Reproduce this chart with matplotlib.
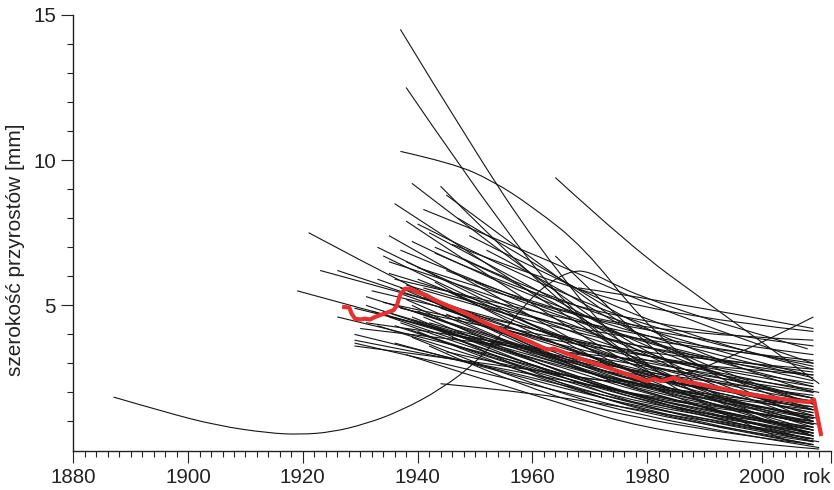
import matplotlib
matplotlib.use("Agg")
import matplotlib.pyplot as plt
from matplotlib.path import Path
from matplotlib.patches import PathPatch
from matplotlib.ticker import MultipleLocator, FixedLocator
from matplotlib.transforms import blended_transform_factory

plt.rcParams['font.family'] = ['Liberation Sans', 'DejaVu Sans']

# bundle of single-tree curves, read at start, 1960, 1985 and end
start_year = [1939, 1936, 1938, 1942, 1935, 1933, 1934, 1937, 1938, 1933,
              1944, 1921, 1923, 1926, 1919, 1926, 1931, 1929, 1932, 1929,
              1929, 1929, 1929, 1936, 1944, 1937, 1938, 1936, 1939, 1940,
              1935, 1941, 1937, 1938, 1940, 1939, 1942, 1938, 1943, 1945,
              1935, 1932, 1934, 1936, 1931, 1930, 1940, 1941, 1938, 1937,
              1942, 1944, 1934, 1939, 1940, 1943, 1945, 1941, 1946, 1939,
              1933, 1946, 1947, 1931, 1942, 1950, 1948, 1935, 1945, 1947,
              1943, 1949, 1952, 1940, 1937, 1941, 1939, 1936, 1943, 1945]
start_mm = [9.2, 8.5, 7.9, 7.5, 7.4, 7.0, 6.7, 6.9, 6.5, 5.9,
            9.1, 7.5, 6.2, 6.2, 5.5, 4.6, 5.3, 4.9, 4.8, 4.0,
            3.8, 3.7, 3.6, 3.7, 2.3, 5.4, 5.2, 5.0, 5.0, 4.8,
            4.6, 4.6, 4.4, 4.2, 4.1, 3.9, 3.6, 3.3, 5.8, 5.5,
            6.1, 5.5, 5.1, 5.9, 4.4, 4.2, 6.3, 5.6, 5.7, 4.9,
            4.4, 4.9, 4.8, 7.2, 7.8, 6.8, 6.2, 8.3, 7.1, 4.5,
            4.3, 3.9, 4.6, 5.0, 5.2, 5.8, 6.6, 6.5, 8.8, 8.0,
            7.0, 7.4, 6.9, 5.9, 5.6, 5.3, 4.6, 4.3, 4.2, 4.7]
mm_1960 = [6.0, 5.4, 5.0, 5.6, 4.6, 4.4, 4.2, 5.0, 4.5, 4.0,
           5.9, 3.4, 4.2, 4.0, 3.3, 3.0, 3.5, 3.4, 3.2, 2.5,
           2.6, 2.3, 2.8, 2.4, 2.0, 3.8, 3.3, 3.4, 3.0, 3.2,
           2.9, 3.0, 2.8, 2.7, 2.5, 2.2, 2.0, 1.9, 3.9, 4.1,
           4.6, 4.2, 4.0, 4.8, 3.6, 3.5, 5.0, 4.5, 4.4, 3.9,
           3.4, 3.8, 3.3, 5.2, 5.8, 5.3, 5.0, 6.8, 6.0, 3.1,
           2.6, 2.9, 3.6, 3.1, 3.5, 4.9, 5.5, 4.9, 6.6, 6.5,
           5.6, 6.3, 6.1, 4.3, 3.6, 3.4, 2.9, 2.7, 2.6, 3.3]
mm_1985 = [2.6, 2.2, 2.0, 3.0, 1.8, 1.6, 2.4, 3.4, 2.9, 2.1,
           1.8, 1.6, 2.8, 2.2, 1.8, 1.4, 2.0, 2.3, 1.6, 1.3,
           1.7, 1.0, 2.0, 1.2, 1.2, 2.4, 1.7, 2.0, 1.3, 1.9,
           1.5, 1.5, 1.4, 1.6, 1.1, 0.9, 0.8, 0.45, 2.2, 2.6,
           3.2, 3.0, 3.2, 3.7, 2.7, 3.0, 3.9, 3.6, 3.3, 3.1,
           2.5, 2.8, 2.2, 3.6, 3.9, 4.2, 4.0, 4.6, 4.6, 2.0,
           1.2, 1.5, 2.4, 1.4, 1.8, 3.4, 3.8, 2.9, 3.0, 3.5,
           2.6, 4.0, 3.2, 2.5, 1.9, 1.6, 1.1, 1.3, 1.0, 1.9]
end_year = [2009, 2009, 2009, 2009, 2009, 2008, 2009, 2009, 2010, 2009,
            2005, 2009, 2009, 2009, 2009, 2009, 2010, 2009, 2009, 2009,
            2009, 2009, 2009, 2009, 2009, 2009, 2010, 2009, 2009, 2009,
            2009, 2009, 2009, 2009, 2009, 2010, 2009, 2010, 2009, 2009,
            2009, 2009, 2009, 2009, 2009, 2009, 2009, 2009, 2009, 2009,
            2009, 2009, 2009, 2009, 2009, 2009, 2009, 2009, 2009, 2009,
            2009, 2009, 2009, 2009, 2009, 2009, 2008, 2009, 2009, 2009,
            2009, 2009, 2009, 2009, 2009, 2009, 2010, 2009, 2009, 2009]
end_mm = [1.2, 0.9, 0.7, 1.6, 0.6, 0.4, 1.4, 2.4, 2.0, 1.1,
          0.3, 0.6, 1.8, 1.3, 0.9, 0.5, 1.1, 1.5, 0.7, 0.6,
          1.0, 0.3, 1.4, 0.5, 0.4, 1.6, 0.9, 1.2, 0.4, 1.1,
          0.7, 0.5, 0.6, 1.0, 0.2, 0.1, 0.2, 0.05, 1.3, 1.8,
          2.6, 2.2, 2.8, 3.0, 2.0, 2.6, 3.3, 3.1, 2.7, 2.3,
          1.9, 2.1, 1.7, 2.5, 2.9, 3.6, 3.8, 3.0, 4.1, 1.5,
          0.4, 0.8, 1.4, 0.3, 0.9, 2.2, 2.6, 1.8, 1.4, 2.0,
          1.0, 2.8, 1.6, 1.7, 1.0, 0.7, 0.3, 0.8, 0.2, 1.2]

# curves with their own shape
a_years = [1937, 1949, 1961, 1975, 1990, 2009]
a_mm = [14.5, 10.6, 7.0, 3.6, 1.7, 0.5]
b_years = [1938, 1957, 1970, 1985, 2009]
b_mm = [12.5, 7.0, 4.2, 2.2, 0.8]
arc_years = [1937, 1946, 1953, 1960, 1969, 1979, 1990, 2009]
arc_mm = [10.3, 9.9, 9.3, 8.4, 7.0, 4.5, 2.6, 1.0]
d_years = [1964, 1977, 1990, 2010]
d_mm = [9.4, 7.05, 5.15, 2.3]
l1_years = [1964, 1979, 1992, 2009]
l1_mm = [6.7, 3.8, 1.7, 0.5]
l2_years = [1968, 1979, 2009]
l2_mm = [5.6, 5.3, 4.2]
rise_years = [1945, 1965, 1982, 1996, 2009]
rise_mm = [3.4, 2.5, 2.3, 3.3, 4.6]
old_years = [1887, 1896, 1905, 1914, 1919.5, 1925, 1931, 1937, 1944, 1950,
             1955, 1959, 1963, 1967, 1970, 1974, 1979, 1990, 2000, 2008]
old_mm = [1.84, 1.32, 0.86, 0.6, 0.55, 0.63, 0.92, 1.36, 2.1, 3.0,
          4.1, 5.1, 5.8, 6.2, 6.15, 5.75, 5.3, 4.55, 3.98, 3.5]

# mean curve (red)
mean_years = [1927.2, 1928.1, 1928.5, 1929.1, 1930.0, 1930.8, 1931.7, 1932.6,
              1933.4, 1934.6, 1935.8, 1936.4, 1936.9, 1937.8, 1938.7, 1939.9,
              1941.6, 1942.8, 1945.1, 1948.0, 1950.9, 1953.8, 1956.7, 1959.7,
              1962.6, 1963.7, 1966.1, 1968.4, 1971.3, 1974.2, 1977.1, 1980.0,
              1981.2, 1982.4, 1983.5, 1984.7, 1985.9, 1988.8, 1991.7, 1994.6,
              1997.5, 2000.4, 2003.3, 2006.8, 2008.3, 2009.1, 2010.3]
mean_mm = [4.94, 4.92, 4.71, 4.54, 4.51, 4.54, 4.51, 4.60,
           4.66, 4.74, 4.83, 5.0, 5.34, 5.57, 5.57, 5.46,
           5.34, 5.2, 5.0, 4.77, 4.48, 4.23, 3.97, 3.74,
           3.47, 3.51, 3.33, 3.16, 2.97, 2.78, 2.59, 2.39,
           2.47, 2.39, 2.44, 2.51, 2.41, 2.30, 2.18, 2.07,
           1.95, 1.86, 1.78, 1.69, 1.67, 1.75, 0.57]


def smooth_line(ax, xs, ys):
    # quadratic bezier through the read points, drawn in data coords
    pts = list(zip(xs, ys))
    verts = [pts[0]]
    codes = [Path.MOVETO]
    if len(pts) == 2:
        verts.append(pts[1])
        codes.append(Path.LINETO)
    for k in range(1, len(pts) - 1):
        if k < len(pts) - 2:
            nxt = ((pts[k][0] + pts[k + 1][0]) / 2, (pts[k][1] + pts[k + 1][1]) / 2)
        else:
            nxt = pts[k + 1]
        verts += [pts[k], nxt]
        codes += [Path.CURVE3, Path.CURVE3]
    ax.add_patch(PathPatch(Path(verts, codes), fill=False,
                           edgecolor='#151515', lw=0.8))


fig = plt.figure(figsize=(8.34, 4.9), dpi=100)
ax = fig.add_axes([0.088, 0.0806, 0.908, 0.889])

for i in range(len(start_year)):
    smooth_line(ax, [start_year[i], 1960, 1985, end_year[i]],
                [start_mm[i], mm_1960[i], mm_1985[i], end_mm[i]])

for xs, ys in [(a_years, a_mm), (b_years, b_mm), (arc_years, arc_mm),
               (d_years, d_mm), (l1_years, l1_mm), (l2_years, l2_mm),
               (rise_years, rise_mm), (old_years, old_mm)]:
    smooth_line(ax, xs, ys)

ax.plot(mean_years, mean_mm, color='#e8312f', lw=3.0, zorder=5,
        solid_joinstyle='round')

ax.set_xlim(1880, 2012)
ax.set_ylim(0, 15)
for s in ['top', 'right']:
    ax.spines[s].set_visible(False)
for s in ['left', 'bottom']:
    ax.spines[s].set_linewidth(1.0)
    ax.spines[s].set_color('#222222')

ax.xaxis.set_major_locator(FixedLocator([1880, 1900, 1920, 1940, 1960, 1980, 2000, 2012]))
ax.set_xticklabels(['1880', '1900', '1920', '1940', '1960', '1980', '2000', ''])
ax.xaxis.set_minor_locator(MultipleLocator(2))
ax.yaxis.set_major_locator(FixedLocator([5, 10, 15]))
ax.yaxis.set_minor_locator(FixedLocator([1, 2, 3, 4, 6, 7, 8, 9, 11, 12, 13, 14]))

ax.tick_params(which='major', direction='out', length=8.5, width=0.8,
               labelsize=14.8, pad=4, colors='#222222')
ax.tick_params(which='minor', direction='out', length=4.5, width=0.8,
               colors='#222222')

trans = blended_transform_factory(ax.transData, ax.transAxes)
ax.text(2012, -0.04, 'rok', transform=trans, ha='right', va='top',
        fontsize=14.8, color='#222222')

ax.set_ylabel('szerokość przyrostów [mm]', fontsize=15, color='#222222')
ax.yaxis.set_label_coords(-0.064, 0.462)

fig.savefig('out.png', dpi=100)
